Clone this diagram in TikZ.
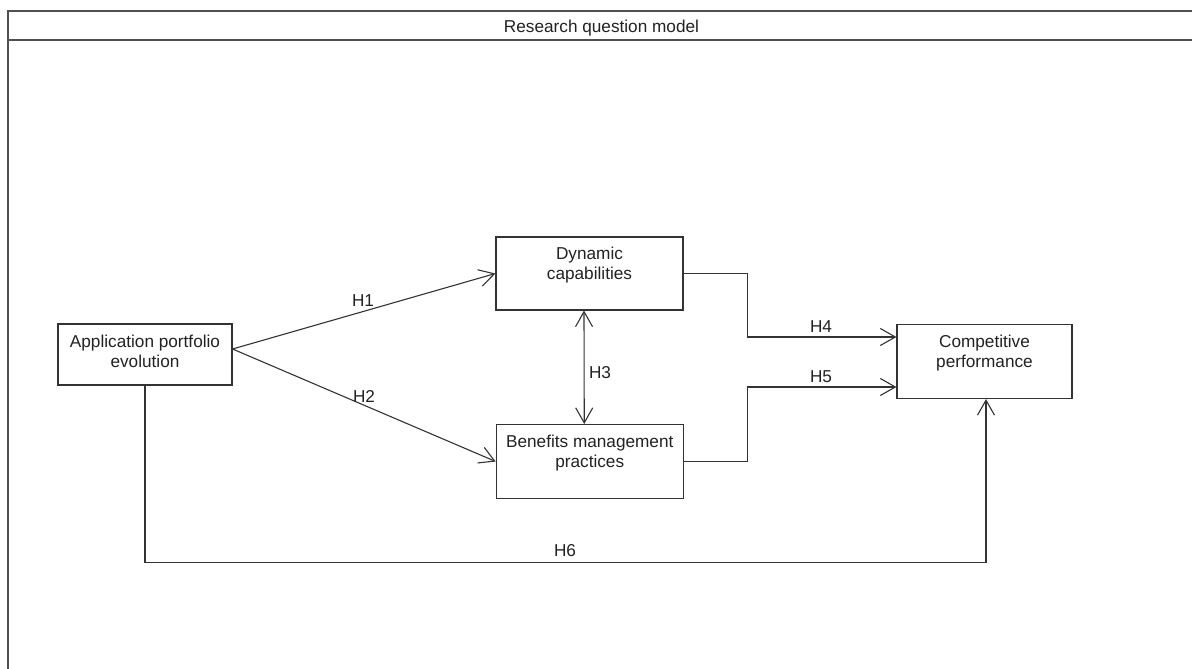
\documentclass[tikz,border=0pt]{standalone}
\usepackage{fontspec}
\setmainfont{Liberation Sans}
\usetikzlibrary{arrows.meta}
\definecolor{linec}{HTML}{333333}
\definecolor{framec}{HTML}{505050}
\definecolor{textc}{HTML}{222222}
\begin{document}
\begin{tikzpicture}[x=1pt,y=-1pt,
  box/.style={draw=linec, line width=1.1pt, inner sep=0pt},
  boxtext/.style={anchor=north, inner sep=0pt, align=center, text=textc,
    font=\fontsize{17.2}{20}\selectfont},
  hlab/.style={inner sep=0pt, text=textc, font=\fontsize{17.2}{20}\selectfont},
  conn/.style={draw=linec, line width=1.1pt, -{Straight Barb[length=15pt,width=17pt]}},
  both/.style={draw=linec, line width=1.1pt, {Straight Barb[length=15pt,width=17pt]}-{Straight Barb[length=15pt,width=17pt]}},
  plain/.style={draw=linec, line width=1.1pt},
  frame/.style={draw=framec, line width=1.4pt}]
\useasboundingbox (0,0) rectangle (1192,669);
\fill[white] (0,0) rectangle (1192,669);
% frame
\draw[frame] (8,669) -- (8,11) -- (1192,11);
\draw[frame] (8,40) -- (1192,40);
\node[hlab, anchor=base] (title) at (601.5,33) {Research question model};
% boxes
\node[box, minimum width=174pt, minimum height=61pt] (app) at (145,354.5) {};
\node[boxtext] (appt) at (145,334.5) {Application portfolio\\evolution};
\node[box, minimum width=187pt, minimum height=73pt] (dyn) at (589.5,273.5) {};
\node[boxtext] (dynt) at (589.5,247) {Dynamic\\capabilities};
\node[box, minimum width=187pt, minimum height=74pt] (ben) at (589.75,461.5) {};
\node[boxtext] (bent) at (589.75,435) {Benefits management\\practices};
\node[box, minimum width=175pt, minimum height=74pt] (comp) at (984.5,361.5) {};
\node[boxtext] (compt) at (984.5,335) {Competitive\\performance};
% connectors
\draw[conn] ([yshift=5.5pt]app.east) -- (dyn.west);
\draw[conn] ([yshift=5.5pt]app.east) -- (ben.west);
\draw[both] ([xshift=-5.5pt]dyn.south) -- ([xshift=-5.5pt]ben.north);
\draw[conn] (dyn.east) -- ++(64,0) |- ([yshift=24.5pt]comp.west);
\draw[conn] (ben.east) -- ++(64,0) |- ([yshift=-25.5pt]comp.west);
\draw[conn] (app.south) -- ++(0,177) -| ([xshift=1.5pt]comp.south);
% labels
\node[hlab] (h1) at (363,301) {H1};
\node[hlab] (h2) at (364,396) {H2};
\node[hlab] (h3) at (600,373) {H3};
\node[hlab] (h4) at (821,327) {H4};
\node[hlab] (h5) at (821,377) {H5};
\node[hlab] (h6) at (565,551) {H6};
\end{tikzpicture}
\end{document}
